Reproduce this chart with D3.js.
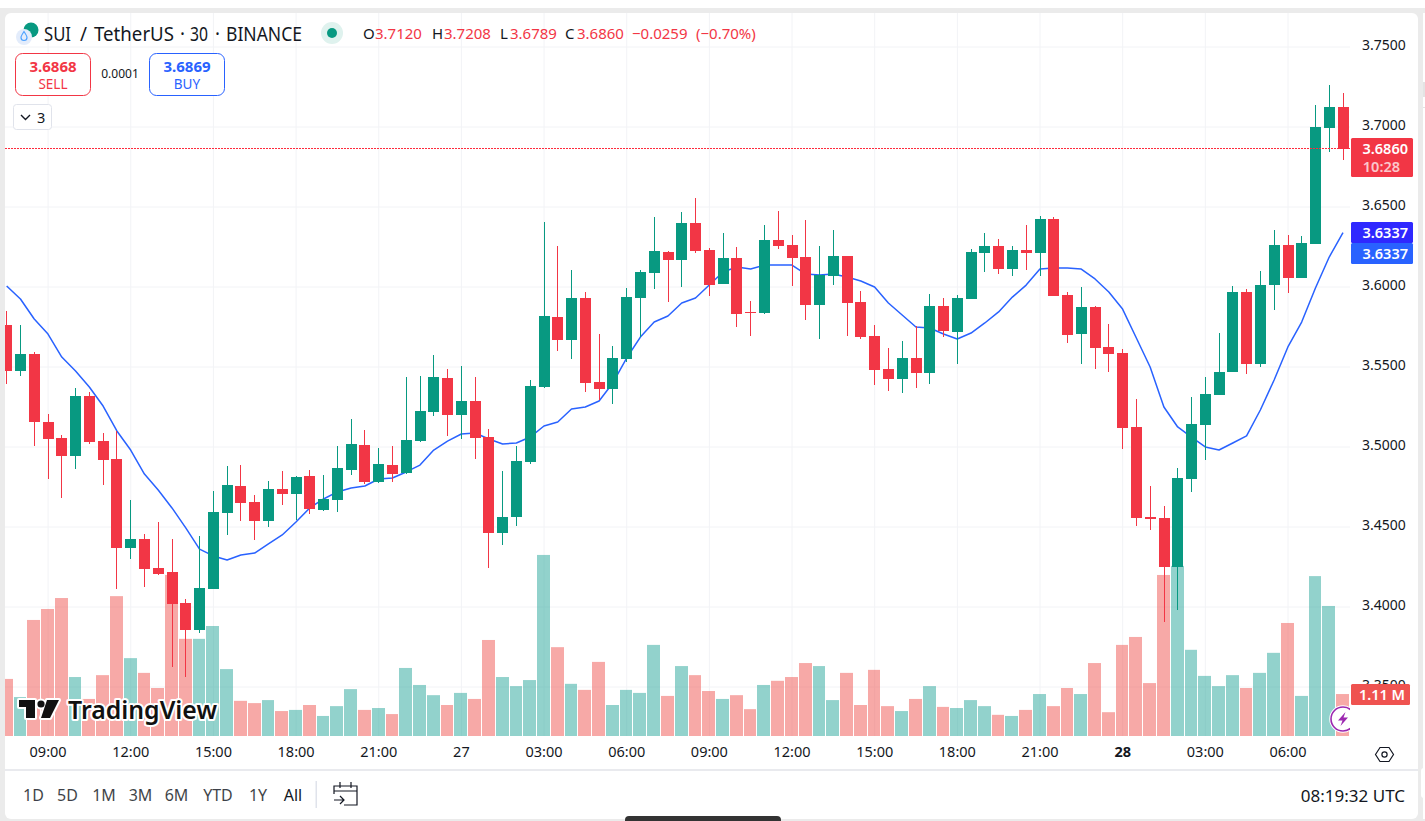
<!DOCTYPE html>
<html><head><meta charset="utf-8">
<script src="https://d3js.org/d3.v7.min.js"></script>
<style>
html,body{margin:0;padding:0;background:#fff;overflow:hidden}
svg{display:block}
text{font-family:"Noto Sans","Open Sans",Roboto,sans-serif}
</style></head><body>
<svg id="c" width="1425" height="821"></svg>
<script>
const opens=[3.5759,3.5472,3.5578,3.5153,3.5053,3.4941,3.5316,3.5034,3.4922,3.4366,3.4422,3.4241,3.4216,3.4022,3.3853,3.4109,3.4584,3.4753,3.4653,3.4534,3.4734,3.4703,3.4816,3.4603,3.4666,3.4853,3.5009,3.4778,3.4884,3.4834,3.5034,3.5216,3.5428,3.5197,3.5284,3.5059,3.4459,3.4559,3.4903,3.5372,3.5809,3.5666,3.5928,3.5403,3.5359,3.5547,3.5928,3.6084,3.6216,3.6166,3.6397,3.6228,3.6016,3.6178,3.5841,3.5834,3.6291,3.6259,3.6184,3.5884,3.6066,3.6191,3.5903,3.5691,3.5484,3.5422,3.5553,3.5459,3.5878,3.5716,3.5922,3.6209,3.6253,3.6109,3.6228,3.6209,3.6422,3.5947,3.5703,3.5872,3.5622,3.5584,3.5122,3.4559,3.4553,3.4247,3.4797,3.5134,3.5322,3.5466,3.5966,3.5516,3.6009,3.6259,3.6053,3.6266,3.6990,3.7120];
const highs=[3.5847,3.5759,3.5591,3.5203,3.5072,3.5366,3.5341,3.5084,3.5097,3.4666,3.4453,3.4528,3.4422,3.4047,3.4441,3.4722,3.4878,3.4884,3.4697,3.4784,3.4847,3.4816,3.4853,3.4822,3.5003,3.5172,3.5103,3.4991,3.5003,3.5434,3.5441,3.5572,3.5484,3.5503,3.5434,3.5109,3.4847,3.5003,3.5416,3.6403,3.6253,3.6103,3.5966,3.5703,3.5628,3.5991,3.6103,3.6434,3.6222,3.6466,3.6553,3.6241,3.6334,3.6247,3.5909,3.6384,3.6472,3.6322,3.6416,3.6253,3.6353,3.6191,3.5972,3.5759,3.5616,3.5659,3.5753,3.5953,3.5928,3.5947,3.6234,3.6334,3.6297,3.6253,3.6384,3.6441,3.6434,3.5966,3.5997,3.5878,3.5766,3.5609,3.5297,3.4753,3.4628,3.4866,3.5309,3.5434,3.5709,3.6003,3.5984,3.6097,3.6353,3.6322,3.6316,3.7134,3.7259,3.7208];
const lows=[3.5391,3.5441,3.5003,3.4797,3.4678,3.4859,3.5016,3.4759,3.4109,3.4297,3.4122,3.4197,3.3622,3.3559,3.3834,3.4109,3.4447,3.4534,3.4416,3.4497,3.4634,3.4541,3.4578,3.4597,3.4591,3.4822,3.4766,3.4772,3.4778,3.4828,3.5028,3.5191,3.5066,3.5047,3.4922,3.4241,3.4384,3.4503,3.4891,3.5366,3.5597,3.5547,3.5341,3.5290,3.5266,3.5528,3.5684,3.5984,3.5903,3.5997,3.6209,3.5941,3.6016,3.5747,3.5691,3.5828,3.6234,3.6003,3.5791,3.5672,3.6009,3.5691,3.5672,3.5384,3.5347,3.5334,3.5366,3.5391,3.5684,3.5516,3.5922,3.6091,3.6078,3.6066,3.6103,3.6066,3.5941,3.5647,3.5516,3.5484,3.5466,3.4984,3.4503,3.4478,3.3903,3.3978,3.4716,3.4916,3.5322,3.5466,3.5453,3.5497,3.5853,3.5959,3.6053,3.6266,3.6841,3.6789];
const closes=[3.5472,3.5578,3.5153,3.5047,3.4941,3.5316,3.5028,3.4916,3.4366,3.4422,3.4234,3.4203,3.4016,3.3853,3.4116,3.4591,3.4759,3.4647,3.4534,3.4734,3.4703,3.4809,3.4609,3.4672,3.4866,3.5016,3.4778,3.4891,3.4828,3.5041,3.5222,3.5434,3.5197,3.5284,3.5053,3.4459,3.4559,3.4909,3.5378,3.5816,3.5666,3.5928,3.5397,3.5359,3.5553,3.5934,3.6091,3.6222,3.6166,3.6397,3.6222,3.6009,3.6178,3.5828,3.5834,3.6291,3.6253,3.6178,3.5884,3.6072,3.6191,3.5897,3.5684,3.5478,3.5422,3.5553,3.5459,3.5878,3.5722,3.5928,3.6216,3.6253,3.6109,3.6228,3.6209,3.6422,3.5941,3.5697,3.5872,3.5616,3.5578,3.5116,3.4553,3.4547,3.4247,3.4803,3.5141,3.5328,3.5466,3.5966,3.5516,3.6009,3.6259,3.6053,3.6272,3.6997,3.7120,3.6860];
const maLine=[3.6003,3.5922,3.5797,3.5703,3.5559,3.5472,3.5372,3.5253,3.5097,3.4978,3.4828,3.4728,3.4616,3.4491,3.4359,3.4316,3.4291,3.4322,3.4334,3.4391,3.4447,3.4528,3.4616,3.4672,3.4716,3.4741,3.4753,3.4797,3.4803,3.4841,3.4884,3.4978,3.5034,3.5078,3.5084,3.5047,3.5016,3.5022,3.5059,3.5128,3.5153,3.5234,3.5247,3.5284,3.5397,3.5553,3.5684,3.5778,3.5816,3.5897,3.5928,3.6009,3.6091,3.6122,3.6109,3.6134,3.6134,3.6134,3.6078,3.6072,3.6078,3.6059,3.6034,3.5997,3.5897,3.5822,3.5747,3.5741,3.5703,3.5672,3.5709,3.5772,3.5841,3.5934,3.6009,3.6109,3.6116,3.6116,3.6109,3.6047,3.5966,3.5859,3.5678,3.5497,3.5247,3.5122,3.5059,3.4997,3.4978,3.5022,3.5066,3.5228,3.5416,3.5622,3.5778,3.5991,3.6184,3.6337];
const volumes=[1.51,1.03,3.07,3.36,3.65,1.56,0.98,1.61,3.70,2.06,1.67,1.27,4.26,2.57,2.57,2.91,1.77,0.93,0.87,0.95,0.66,0.69,0.82,0.53,0.79,1.24,0.69,0.74,0.58,1.80,1.35,1.08,0.82,1.14,0.98,2.54,1.56,1.32,1.48,4.79,2.35,1.38,1.22,1.96,0.82,1.22,1.14,2.41,1.06,1.85,1.61,1.19,0.98,1.08,0.71,1.35,1.46,1.56,1.93,1.85,0.95,1.67,0.82,1.75,0.79,0.66,0.98,1.32,0.77,0.74,0.95,0.79,0.56,0.53,0.69,1.11,0.79,1.27,1.11,1.93,0.63,2.41,2.62,1.40,4.26,4.50,2.28,1.59,1.32,1.61,1.27,1.67,2.20,2.99,1.06,4.23,3.44,1.11];
const priceTicks=[3.75,3.70,3.65,3.60,3.55,3.50,3.45,3.40,3.35];
const timeIndex=[3,9,15,21,27,33,39,45,51,57,63,69,75,81,87,93];
const timeLabels=["09:00","12:00","15:00","18:00","21:00","27","03:00","06:00","09:00","12:00","15:00","18:00","21:00","28","03:00","06:00"];
const rangeLabels=["1D","5D","1M","3M","6M","YTD","1Y","All"];
const rangeX=[33.5,67.5,104,140.5,176.5,218,258,293];

const GREEN="#089981",RED="#f23645",BLUE="#2962ff",INK="#131722",GRID="#f2f3f6";
const svg=d3.select("#c");
const T=(g,x,y,s,o={})=>g.append("text").attr("x",x).attr("y",y).text(s)
  .attr("font-size",o.size||14).attr("fill",o.fill||INK).attr("text-anchor",o.anchor||"start")
  .attr("font-weight",o.weight||400).attr("dominant-baseline","central").attr("opacity",o.opacity==null?1:o.opacity);

const L=5,R=1350,TOP=13,B=736;
const x=d3.scaleLinear().domain([3,93]).range([47.6,1287.5]);
const y=d3.scaleLinear().domain([3.35,3.75]).range([686.5,46.5]);
const yV=d3.scaleLinear().domain([0,5]).range([736,547]);

/* chrome */
svg.append("rect").attr("width",1425).attr("height",821).attr("fill","#fff");
svg.append("rect").attr("y",8).attr("width",1425).attr("height",813).attr("fill","#ebebeb");
svg.append("rect").attr("x",L).attr("y",TOP).attr("width",1413).attr("height",806).attr("rx",6).attr("fill","#fff");
svg.append("rect").attr("x",1423).attr("y",13).attr("width",2).attr("height",806).attr("fill","#fff");
svg.append("rect").attr("x",1423).attr("y",82).attr("width",2).attr("height",15).attr("fill","#e4e4e4");
svg.append("rect").attr("x",1423).attr("y",107).attr("width",2).attr("height",1).attr("fill","#e4e4e4");
svg.append("rect").attr("x",1421).attr("y",768).attr("width",6).attr("height",30).attr("rx",3).attr("fill","#fff");
svg.append("rect").attr("x",625).attr("y",816).attr("width",156).attr("height",8).attr("rx",4).attr("fill","#333");

svg.append("defs").append("clipPath").attr("id","pane").append("rect")
  .attr("x",L).attr("y",TOP).attr("width",R-L).attr("height",B-TOP);
const pane=svg.append("g").attr("clip-path","url(#pane)");

/* grid */
const gx=pane.append("g").attr("transform",`translate(0,${B})`)
  .call(d3.axisBottom(x).tickValues(timeIndex).tickSize(-(B-TOP)).tickFormat(""));
const gy=pane.append("g").attr("transform",`translate(${L},0)`)
  .call(d3.axisRight(y).tickValues(priceTicks).tickSize(R-L).tickFormat(""));
[gx,gy].forEach(g=>{g.select(".domain").remove();g.selectAll("line").attr("stroke",GRID).attr("stroke-width",1);});

const up=i=>closes[i]>=opens[i];
const idx=d3.range(opens.length);

/* volume */
pane.append("g").selectAll("rect").data(volumes).join("rect")
  .attr("x",(d,i)=>Math.round(x(i)-6.5))
  .attr("width",(d,i)=>Math.round(x(i+1)-6.5)-Math.round(x(i)-6.5)-1)
  .attr("y",d=>yV(d)).attr("height",d=>yV(0)-yV(d))
  .attr("fill",(d,i)=>up(i)?"#26a69a":"#ef5350").attr("fill-opacity",.5);

/* moving average */
pane.append("path").datum(maLine).attr("fill","none").attr("stroke",BLUE).attr("stroke-width",1.5)
  .attr("stroke-linejoin","round")
  .attr("d",d3.line().x((d,i)=>x(i)+.4).y(d=>y(d)));

/* candles */
const cg=pane.append("g");
cg.selectAll(".w").data(idx).join("rect").attr("class","w")
  .attr("x",i=>Math.round(x(i))).attr("width",1)
  .attr("y",i=>Math.round(y(highs[i]))).attr("height",i=>Math.max(1,Math.round(y(lows[i]))-Math.round(y(highs[i]))))
  .attr("fill",i=>up(i)?GREEN:RED);
cg.selectAll(".b").data(idx).join("rect").attr("class","b")
  .attr("x",i=>Math.round(x(i))-5).attr("width",11)
  .attr("y",i=>Math.round(y(Math.max(opens[i],closes[i]))))
  .attr("height",i=>Math.max(1,Math.round(y(Math.min(opens[i],closes[i])))-Math.round(y(Math.max(opens[i],closes[i])))))
  .attr("fill",i=>up(i)?GREEN:RED);

/* last price line */
const lastClose=closes[closes.length-1],lastMa=maLine[maLine.length-1],lastVol=volumes[volumes.length-1];
const lastY=Math.floor(y(lastClose))+.5;
pane.append("line").attr("x1",L).attr("x2",R).attr("y1",lastY).attr("y2",lastY)
  .attr("stroke","#ff2a3c").attr("stroke-width",1).attr("stroke-dasharray","2 1");

/* TradingView watermark */
const tv=pane.append("g");
const icon="M19 700H35V718H26V707H19Z M47 700H59L50 718H41Z";
tv.append("path").attr("d",icon).attr("fill","#fff").attr("stroke","#fff").attr("stroke-width",4).attr("stroke-linejoin","round");
tv.append("circle").attr("cx",41).attr("cy",704).attr("r",3.6).attr("fill","#fff").attr("stroke","#fff").attr("stroke-width",4);
tv.append("path").attr("d",icon).attr("fill","#111");
tv.append("circle").attr("cx",41).attr("cy",704).attr("r",3.6).attr("fill","#111");
tv.append("text").attr("x",68).attr("y",709).attr("dominant-baseline","central").text("TradingView")
  .attr("font-size",25).attr("font-weight",600).attr("fill","#111").attr("stroke","#fff").attr("stroke-width",4)
  .attr("paint-order","stroke").attr("stroke-linejoin","round").attr("textLength",149).attr("lengthAdjust","spacingAndGlyphs");

/* lightning */
const lg=pane.append("g");
lg.append("circle").attr("cx",1343).attr("cy",719).attr("r",13).attr("fill","#fff").attr("stroke","#fff").attr("stroke-width",1.5);
lg.append("circle").attr("cx",1343).attr("cy",719).attr("r",12).attr("fill","#fff").attr("stroke","#9c27b0").attr("stroke-width",1.6);
lg.append("path").attr("d","M1345.5 712L1338 720.5H1342.5L1340.5 726L1348 717.5H1343.5Z").attr("fill","#9c27b0");

/* price axis */
const ax=svg.append("g").attr("transform",`translate(${R},-1)`)
  .call(d3.axisRight(y).tickValues(priceTicks).tickSize(0).tickPadding(12).tickFormat(d3.format(".4f")));
ax.select(".domain").remove();
ax.selectAll("text").attr("font-size",14).attr("fill",INK).attr("text-anchor","start").attr("font-family",'"Noto Sans"');

/* time axis */
const at=svg.append("g").attr("transform",`translate(0,${B})`)
  .call(d3.axisBottom(x).tickValues(timeIndex).tickSize(0).tickPadding(11).tickFormat((d,i)=>timeLabels[i]));
at.select(".domain").remove();
at.selectAll("text").attr("font-size",14.5).attr("fill",INK).attr("font-family",'"Noto Sans"')
  .attr("font-weight",(d,i)=>timeLabels[i]==="28"?700:400);
svg.append("rect").attr("x",L).attr("y",769).attr("width",1413).attr("height",2).attr("fill","#e9eaee");

/* axis price tags */
const tag=(yy,h,fill)=>svg.append("rect").attr("x",1351).attr("y",yy).attr("width",62).attr("height",h).attr("rx",1.5).attr("fill",fill);
tag(138,39,RED);
T(svg,1408,147.5,d3.format(".4f")(lastClose),{fill:"#fff",anchor:"end",weight:600,size:14.5});
T(svg,1400,166,"10:28",{fill:"#fff",anchor:"end",opacity:.72,weight:600,size:14.5});
tag(222,21,"#2f28ff");
T(svg,1408,231.5,d3.format(".4f")(lastMa),{fill:"#fff",anchor:"end",weight:600,size:14.5});
tag(243,21,BLUE);
T(svg,1408,252.5,d3.format(".4f")(lastMa),{fill:"#fff",anchor:"end",weight:600,size:14.5});
svg.append("rect").attr("x",1351).attr("y",684).attr("width",59).attr("height",21).attr("rx",1.5).attr("fill","#ef5350");
T(svg,1405,694,d3.format(".2f")(lastVol)+" M",{fill:"#fff",anchor:"end",weight:600,size:14.5});

/* header */
const h=svg.append("g");
h.append("circle").attr("cx",31).attr("cy",30).attr("r",7.5).attr("fill",GREEN);
h.append("circle").attr("cx",24).attr("cy",37).attr("r",8).attr("fill","#e3ecfb");
h.append("path").attr("d","M24 31.5C22 34.5 21 36 21 37.5A3 3 0 0 0 27 37.5C27 36 26 34.5 24 31.5Z").attr("fill","none").attr("stroke","#4da2ff").attr("stroke-width",1.2);
[["SUI",44,27],["/",80,7],["TetherUS",94,80],["·",180,5],["30",190,18],["·",215,5],["BINANCE",226,76]]
  .forEach(d=>T(h,d[1],33.5,d[0],{size:19}).attr("textLength",d[2]).attr("lengthAdjust","spacingAndGlyphs"));
h.append("circle").attr("cx",332).attr("cy",33).attr("r",11).attr("fill","#dff2ee");
h.append("circle").attr("cx",332).attr("cy",33).attr("r",5).attr("fill",GREEN);
[[363,"O",0],[375,"3.7120",1],[432,"H",0],[444,"3.7208",1],[500,"L",0],[510,"3.6789",1],[565,"C",0],[577,"3.6860",1],[632,"−0.0259",1],[696,"(−0.70%)",1]]
 .forEach(d=>T(h,d[0],33,d[1],{size:15,fill:d[2]?RED:INK}));

/* sell / buy */
const btn=(bx,c,a,b)=>{
  h.append("rect").attr("x",bx+.5).attr("y",53.5).attr("width",75).attr("height",42).attr("rx",7).attr("fill","#fff").attr("stroke",c);
  T(h,bx+38,66,a,{size:15,fill:c,anchor:"middle",weight:700});
  T(h,bx+38,84,b,{size:13.5,fill:c,anchor:"middle"});
};
btn(15,RED,"3.6868","SELL");
btn(149,BLUE,"3.6869","BUY");
T(h,120,73,"0.0001",{size:12,anchor:"middle"});
h.append("rect").attr("x",13.5).attr("y",104.5).attr("width",38).attr("height",25).attr("rx",3).attr("fill","#fff").attr("stroke","#e0e3eb");
h.append("path").attr("d","M21 115L25.5 119.5L30 115").attr("fill","none").attr("stroke",INK).attr("stroke-width",1.4);
T(h,37,116.5,"3",{size:14.5});

/* bottom bar */
const bb=svg.append("g");
rangeLabels.forEach((s,i)=>T(bb,rangeX[i],795,s,{size:16,anchor:"middle",opacity:i===rangeLabels.length-1?1:.82}));
bb.append("rect").attr("x",315.5).attr("y",781).attr("width",1.5).attr("height",27).attr("fill","#e0e3eb");
bb.append("path").attr("d","M334 794V786H357V805H344 M334 791H357 M340 782V788 M351 782V788 M334 800H344 M340 796L344 800L340 804")
  .attr("fill","none").attr("stroke",INK).attr("stroke-width",1.2);
T(bb,1405,795,"08:19:32 UTC",{size:17,anchor:"end"});
bb.append("path").attr("d","M1375.5 754.5L1380 747.5H1389L1393.5 754.5L1389 761.5H1380Z").attr("fill","none").attr("stroke",INK).attr("stroke-width",1.2);
bb.append("circle").attr("cx",1384.5).attr("cy",754.5).attr("r",2.6).attr("fill","none").attr("stroke",INK).attr("stroke-width",1.2);
</script>
</body></html>
